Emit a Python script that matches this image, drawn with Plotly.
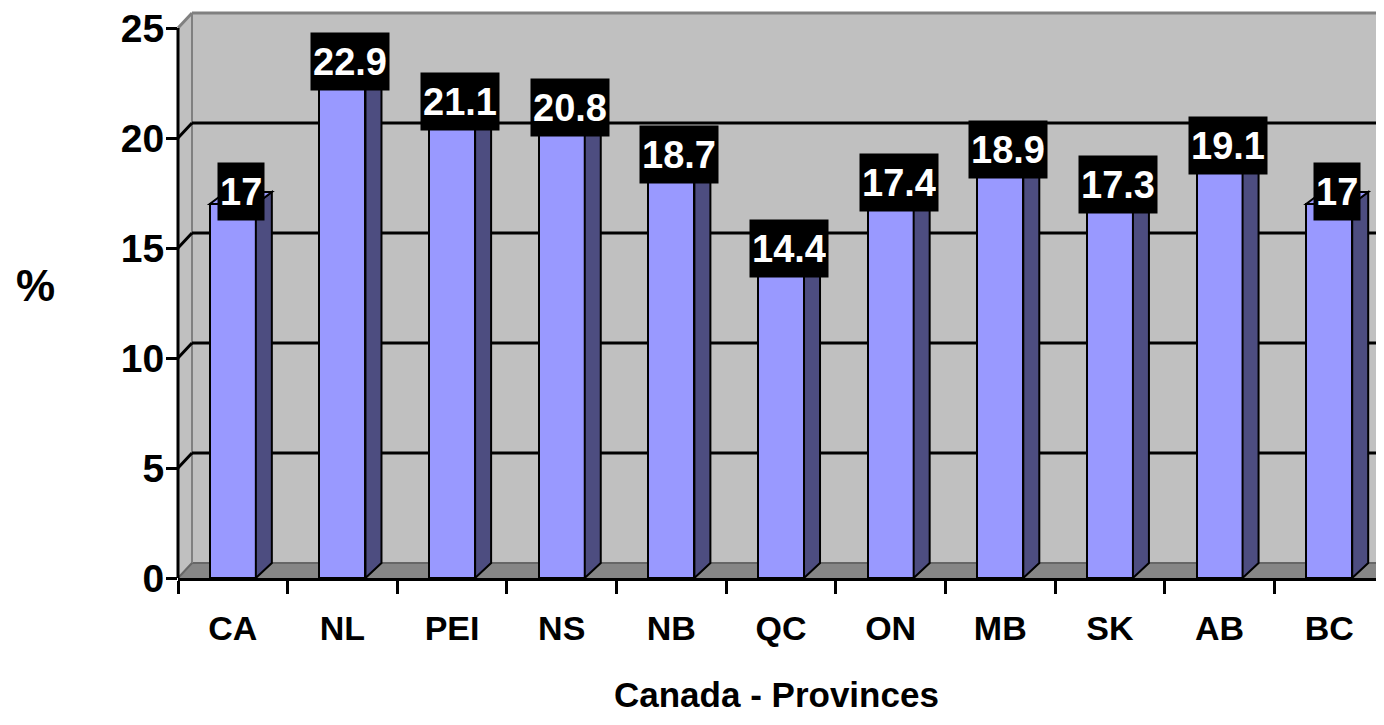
import plotly.graph_objects as go

# ---- data ----
categories = ["CA", "NL", "PEI", "NS", "NB", "QC", "ON", "MB", "SK", "AB", "BC"]
values = [17, 22.9, 21.1, 20.8, 18.7, 14.4, 17.4, 18.9, 17.3, 19.1, 17]
value_labels = ["17", "22.9", "21.1", "20.8", "18.7", "14.4", "17.4", "18.9", "17.3", "19.1", "17"]
y_ticks = [0, 5, 10, 15, 20, 25]
x_title = "Canada - Provinces"
y_title = "%"

# ---- geometry (target pixels in the browser window) ----
OFF = 8                      # page body margin
W, H = 1384 - OFF, 725 - OFF
PL, PR = 178 - OFF, 1384 - OFF   # front plane x extent (figure px)
Y0 = 578 - OFF               # pixel of value 0 (figure px)
PPU = 22                     # pixels per unit
TOP = 14 - OFF               # plot top pixel
WALL_DX, WALL_DY = 14, 15    # depth of walls
BAR_DX, BAR_DY_TOP, BAR_DY_BOT = 16, 12, 15
BAR_W = 0.42

n = len(categories)
ppc = (PR - PL) / n  # pixels per category
ymax = (Y0 - TOP) / PPU

FONT = "Liberation Sans, Arial, sans-serif"


def xp(px):
    return (px - PL) / (PR - PL)


def yp(py):
    return (Y0 - py) / (Y0 - TOP)


def ppath(pts):
    return "M " + " L ".join(f"{xp(a):.5f},{yp(b):.5f}" for a, b in pts) + " Z"


def pline(x0, y0, x1, y1, color, width, layer="below"):
    return dict(type="line", xref="paper", yref="paper", layer=layer,
                x0=xp(x0), x1=xp(x1), y0=yp(y0), y1=yp(y1),
                line=dict(color=color, width=width))


shapes = []
XR = PR + 30
# back wall
shapes.append(dict(type="path", xref="paper", yref="paper", layer="below",
                   path=ppath([(PL + WALL_DX, TOP), (XR, TOP), (XR, Y0 - WALL_DY), (PL + WALL_DX, Y0 - WALL_DY)]),
                   fillcolor="#C0C0C0", line=dict(width=0)))
# left wall
py25 = Y0 - 25 * PPU
shapes.append(dict(type="path", xref="paper", yref="paper", layer="below",
                   path=ppath([(PL, Y0), (PL, py25), (PL + WALL_DX, py25 - WALL_DY), (PL + WALL_DX, Y0 - WALL_DY)]),
                   fillcolor="#C0C0C0", line=dict(width=0)))
# floor
shapes.append(dict(type="path", xref="paper", yref="paper", layer="below",
                   path=ppath([(PL, Y0), (PL + WALL_DX, Y0 - WALL_DY), (XR, Y0 - WALL_DY), (XR, Y0)]),
                   fillcolor="#868686", line=dict(width=0)))
# floor back edge & wall corner
shapes.append(pline(PL + WALL_DX, Y0 - WALL_DY, XR, Y0 - WALL_DY, "#666666", 2))
shapes.append(pline(PL + WALL_DX, Y0 - WALL_DY, PL + WALL_DX, py25 - WALL_DY, "#808080", 2))
shapes.append(pline(PL, Y0, PL + WALL_DX, Y0 - WALL_DY, "#666666", 2))
# gridlines
for v in y_ticks[1:-1]:
    py = Y0 - v * PPU
    shapes.append(pline(PL + WALL_DX, py - WALL_DY, XR, py - WALL_DY, "black", 3))
    shapes.append(pline(PL, py, PL + WALL_DX, py - WALL_DY, "black", 3))
# top edges (gray)
shapes.append(pline(PL + WALL_DX, py25 - WALL_DY, XR, py25 - WALL_DY, "#808080", 3))
shapes.append(pline(PL, py25, PL + WALL_DX, py25 - WALL_DY, "#808080", 3))
# front y axis line
shapes.append(pline(PL, Y0, PL, py25, "black", 3, layer="above"))

# bar side and top faces (data coordinates)
dxu = BAR_DX / ppc
dyt = BAR_DY_TOP / PPU
dyb = BAR_DY_BOT / PPU
for i, v in enumerate(values):
    xr = i + BAR_W / 2
    xl = i - BAR_W / 2
    side = f"M {xr},0 L {xr + dxu},{dyb} L {xr + dxu},{v + dyt} L {xr},{v} Z"
    shapes.append(dict(type="path", xref="x", yref="y", layer="above", path=side,
                       fillcolor="#4D4D80", line=dict(color="black", width=2)))
    top = f"M {xl},{v} L {xr},{v} L {xr + dxu},{v + dyt} L {xl + dxu},{v + dyt} Z"
    shapes.append(dict(type="path", xref="x", yref="y", layer="above", path=top,
                       fillcolor="#9999FF", line=dict(color="black", width=2)))

fig = go.Figure()
fig.add_trace(go.Bar(x=list(range(n)), y=values, width=BAR_W,
                     marker=dict(color="#9999FF", line=dict(color="black", width=2)),
                     hoverinfo="skip"))

annotations = []
for i, (v, t) in enumerate(zip(values, value_labels)):
    annotations.append(dict(x=i + 8 / ppc, y=v + 12.5 / PPU, xref="x", yref="y", text=t,
                            showarrow=False, xanchor="center", yanchor="middle",
                            bgcolor="black", borderpad=2, height=53, valign="middle",
                            font=dict(family=FONT, size=38, color="white", weight="bold")))
annotations.append(dict(x=xp(776 - OFF), y=yp(694 - OFF), xref="paper", yref="paper", text=x_title,
                        showarrow=False, xanchor="center", yanchor="middle",
                        font=dict(family=FONT, size=35, color="black", weight="bold")))
annotations.append(dict(x=xp(35 - OFF), y=yp(285 - OFF), xref="paper", yref="paper", text=y_title,
                        showarrow=False, xanchor="center", yanchor="middle",
                        font=dict(family=FONT, size=44, color="black", weight="bold")))

fig.update_layout(
    width=W, height=H,
    margin=dict(l=PL, r=W - PR, t=TOP, b=H - Y0, pad=0),
    paper_bgcolor="white", plot_bgcolor="rgba(0,0,0,0)",
    showlegend=False, bargap=0,
    shapes=shapes, annotations=annotations,
    xaxis=dict(range=[-0.5, n - 0.5], tickvals=list(range(n)), ticktext=categories,
               showgrid=False, zeroline=False, showline=True, linecolor="black", linewidth=3,
               ticks="outside", ticklen=13, tickcolor="rgba(0,0,0,0)", ticklabelstandoff=5,
               minor=dict(tickvals=[k - 0.5 for k in range(n + 1)], ticks="outside", ticklen=13,
                          tickwidth=3, tickcolor="black", showgrid=False),
               tickfont=dict(family=FONT, size=34, color="black", weight="bold"),
               fixedrange=True),
    yaxis=dict(range=[0, ymax], tickvals=y_ticks, ticktext=[str(t) for t in y_ticks],
               showgrid=False, zeroline=False, showline=False,
               ticks="outside", ticklen=11, tickwidth=3, tickcolor="black",
               ticklabelstandoff=-6, ticklabeloverflow="allow",
               tickfont=dict(family=FONT, size=39, color="black", weight="bold"),
               fixedrange=True),
)

fig.write_html("out.html")
